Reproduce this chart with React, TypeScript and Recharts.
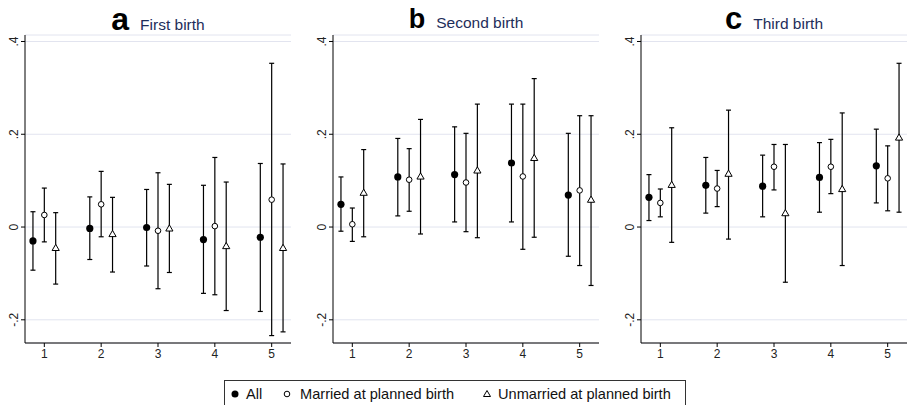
import { CartesianGrid, ComposedChart, ErrorBar, Scatter, XAxis, YAxis } from "recharts";

// each row: [estimate, lower CI, upper CI] for groups 1..5
const groups = [1, 2, 3, 4, 5];
const yTicks = [-0.2, 0, 0.2, 0.4];

const firstAll = [
  [-0.030, -0.093, 0.033],
  [-0.003, -0.070, 0.065],
  [-0.001, -0.084, 0.081],
  [-0.027, -0.143, 0.090],
  [-0.022, -0.182, 0.137],
];
const firstMarried = [
  [0.026, -0.032, 0.084],
  [0.049, -0.021, 0.120],
  [-0.008, -0.133, 0.117],
  [0.002, -0.146, 0.150],
  [0.059, -0.234, 0.353],
];
const firstUnmarried = [
  [-0.045, -0.123, 0.031],
  [-0.015, -0.097, 0.064],
  [-0.003, -0.098, 0.092],
  [-0.041, -0.180, 0.097],
  [-0.045, -0.226, 0.136],
];

const secondAll = [
  [0.049, -0.009, 0.108],
  [0.108, 0.024, 0.191],
  [0.113, 0.011, 0.216],
  [0.138, 0.011, 0.265],
  [0.069, -0.063, 0.202],
];
const secondMarried = [
  [0.006, -0.031, 0.041],
  [0.102, 0.034, 0.169],
  [0.096, -0.010, 0.202],
  [0.109, -0.048, 0.265],
  [0.079, -0.083, 0.240],
];
const secondUnmarried = [
  [0.074, -0.021, 0.167],
  [0.109, -0.015, 0.232],
  [0.122, -0.023, 0.265],
  [0.149, -0.022, 0.320],
  [0.059, -0.126, 0.240],
];

const thirdAll = [
  [0.064, 0.014, 0.113],
  [0.090, 0.030, 0.150],
  [0.088, 0.022, 0.155],
  [0.107, 0.032, 0.182],
  [0.132, 0.052, 0.211],
];
const thirdMarried = [
  [0.052, 0.022, 0.082],
  [0.083, 0.044, 0.122],
  [0.130, 0.080, 0.178],
  [0.130, 0.072, 0.189],
  [0.105, 0.035, 0.175],
];
const thirdUnmarried = [
  [0.091, -0.033, 0.214],
  [0.115, -0.026, 0.252],
  [0.030, -0.119, 0.178],
  [0.082, -0.083, 0.246],
  [0.193, 0.032, 0.353],
];

const panels = [
  { letter: "a", title: "First birth", letterSize: 32, all: firstAll, married: firstMarried, unmarried: firstUnmarried },
  { letter: "b", title: "Second birth", letterSize: 27, all: secondAll, married: secondMarried, unmarried: secondUnmarried },
  { letter: "c", title: "Third birth", letterSize: 31, all: thirdAll, married: thirdMarried, unmarried: thirdUnmarried },
];

const FONT = "'Liberation Sans', Arial, sans-serif";
const GRID = "#e2e4ef";

function toPoints(rows: number[][], offset: number) {
  return rows.map(([est, lo, hi], i) => ({
    x: groups[i] + offset,
    y: est,
    err: [est - lo, hi - est],
  }));
}

function fmtTick(v: number) {
  if (v === 0) return "0";
  return v < 0 ? "-" + String(Math.abs(v)).replace(/^0/, "") : String(v).replace(/^0/, "");
}

const FilledDot = (props: any) => <circle cx={props.cx} cy={props.cy} r={3.6} fill="#000" />;
const HollowDot = (props: any) => (
  <circle cx={props.cx} cy={props.cy} r={2.8} fill="#fff" stroke="#000" strokeWidth={1} />
);
const Triangle = (props: any) => {
  const { cx, cy } = props;
  return (
    <polygon
      points={`${cx},${cy - 3.6} ${cx - 3.6},${cy + 2.6} ${cx + 3.6},${cy + 2.6}`}
      fill="#fff"
      stroke="#000"
      strokeWidth={1}
    />
  );
};

const YTick = (props: any) => {
  const { x, y, payload } = props;
  const bx = x + 1;
  return (
    <text
      x={bx}
      y={y}
      transform={`rotate(-90 ${bx} ${y})`}
      textAnchor="middle"
      fontSize={12}
      fill="#222"
      fontFamily={FONT}
    >
      {fmtTick(payload.value)}
    </text>
  );
};

function Panel({ panel, left }: { panel: (typeof panels)[number]; left: number }) {
  return (
    <div style={{ position: "absolute", left, top: 0, width: 308, height: 370 }}>
      <div
        style={{
          position: "absolute",
          left: 25,
          width: 266,
          top: 2,
          height: 34,
          display: "flex",
          justifyContent: "center",
          alignItems: "baseline",
          fontFamily: FONT,
          lineHeight: "34px",
        }}
      >
        <span style={{ fontSize: panel.letterSize, fontWeight: "bold", color: "#000", marginRight: 11 }}>
          {panel.letter}
        </span>
        <span style={{ fontSize: 15.5, color: "#1e2d5a" }}>{panel.title}</span>
      </div>
      <ComposedChart width={308} height={370} margin={{ top: 35, right: 17, left: 0, bottom: 7 }}>
        <CartesianGrid vertical={false} stroke={GRID} strokeWidth={1} />
        <XAxis
          type="number"
          dataKey="x"
          domain={[0.66, 5.34]}
          ticks={groups}
          allowDataOverflow
          height={20}
          tickSize={4}
          axisLine={{ stroke: "#000" }}
          tickLine={{ stroke: "#000" }}
          tick={{ fontSize: 12, fill: "#222", fontFamily: FONT }}
        />
        <YAxis
          type="number"
          dataKey="y"
          domain={[-0.25, 0.414]}
          ticks={yTicks}
          allowDataOverflow
          width={25}
          tickSize={4}
          tickMargin={4}
          axisLine={{ stroke: "#000" }}
          tickLine={{ stroke: "#000" }}
          tick={<YTick />}
        />
        <Scatter data={toPoints(panel.all, -0.2)} shape={<FilledDot />} isAnimationActive={false}>
          <ErrorBar dataKey="err" direction="y" width={2.5} stroke="#000" strokeWidth={1.2} />
        </Scatter>
        <Scatter data={toPoints(panel.married, 0)} shape={<HollowDot />} isAnimationActive={false}>
          <ErrorBar dataKey="err" direction="y" width={2.5} stroke="#000" strokeWidth={1.2} />
        </Scatter>
        <Scatter data={toPoints(panel.unmarried, 0.2)} shape={<Triangle />} isAnimationActive={false}>
          <ErrorBar dataKey="err" direction="y" width={2.5} stroke="#000" strokeWidth={1.2} />
        </Scatter>
      </ComposedChart>
    </div>
  );
}

// legend items placed at the positions (relative to the box)
function LegendItem({ icon, label, x, gap }: { icon: React.ReactNode; label: string; x: number; gap: number }) {
  return (
    <span style={{ position: "absolute", left: x, top: 5, display: "inline-flex", alignItems: "center" }}>
      <svg width={10} height={10} style={{ marginRight: gap }}>
        {icon}
      </svg>
      {label}
    </span>
  );
}

export default function App() {
  return (
    <div
      style={{
        position: "absolute",
        left: 0,
        top: 0,
        width: 908,
        height: 405,
        background: "#fff",
        overflow: "hidden",
      }}
    >
      {panels.map((p, i) => (
        <Panel key={p.letter} panel={p} left={i * 308} />
      ))}
      <div
        style={{
          position: "absolute",
          left: 224,
          top: 380,
          width: 462,
          height: 30,
          border: "1px solid #333",
          boxSizing: "border-box",
          fontFamily: FONT,
          fontSize: 14.6,
          color: "#111",
        }}
      >
        <LegendItem x={5} gap={6} icon={<circle cx={5} cy={5} r={3.5} fill="#000" />} label="All" />
        <LegendItem
          x={57}
          gap={8}
          icon={<circle cx={5} cy={5} r={2.8} fill="#fff" stroke="#000" strokeWidth={1} />}
          label="Married at planned birth"
        />
        <LegendItem
          x={257}
          gap={6}
          icon={<polygon points="5,1.5 1.5,7.5 8.5,7.5" fill="#fff" stroke="#000" strokeWidth={1} />}
          label="Unmarried at planned birth"
        />
      </div>
    </div>
  );
}
